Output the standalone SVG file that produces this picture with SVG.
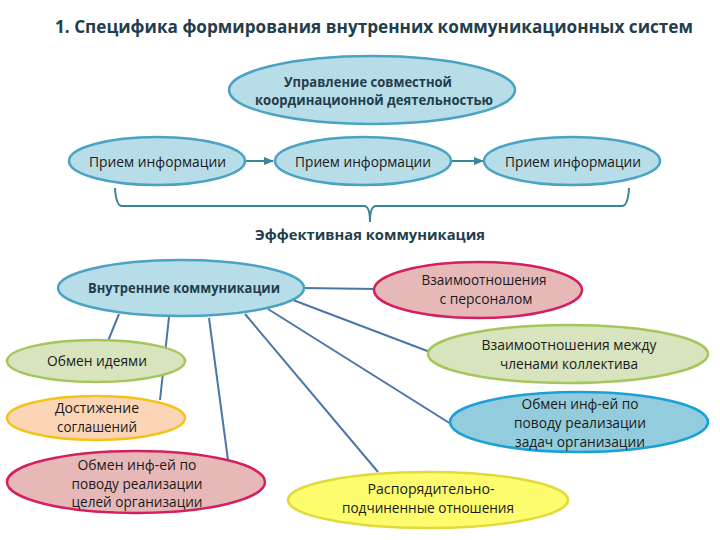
<svg xmlns="http://www.w3.org/2000/svg" width="720" height="540" viewBox="0 0 720 540">
<defs>
<marker id="arr" viewBox="0 0 10 10" refX="9" refY="5" markerWidth="5" markerHeight="5" orient="auto" markerUnits="strokeWidth">
<path d="M0,1 L10,5 L0,9 z" fill="#3a8598"/>
</marker>
<style>
.t{font-family:"Open Sans","Noto Sans","Liberation Sans",sans-serif;font-size:14px;fill:#1a1a1a;text-anchor:middle}
.b{font-family:"Open Sans","Noto Sans","Liberation Sans",sans-serif;font-size:14px;font-weight:bold;fill:#233d4c;text-anchor:middle}
.lb{fill:#b7dde8;stroke:#4aa3c2;stroke-width:2.5}
.pk{fill:#e6b9b8;stroke:#d3215f;stroke-width:2.5}
.gr{fill:#d7e4bd;stroke:#a5c65a;stroke-width:2.5}
.or{fill:#fbd5b5;stroke:#f5c218;stroke-width:2.5}
.bl{fill:#93cddd;stroke:#1aa0d6;stroke-width:2.5}
.ye{fill:#fcfc6c;stroke:#e2da3a;stroke-width:2.5}
.c{stroke:#4a76a8;stroke-width:2;fill:none}
.a{stroke:#3a8598;stroke-width:2;fill:none}
</style>
</defs>
<rect width="720" height="540" fill="#ffffff"/>
<text x="374" y="33" class="b" style="font-size:17px" textLength="638" lengthAdjust="spacingAndGlyphs">1. Специфика формирования внутренних коммуникационных систем</text>

<g id="connectors">
<line class="a" x1="246" y1="161" x2="273" y2="161" marker-end="url(#arr)"/>
<line class="a" x1="452" y1="161" x2="483" y2="161" marker-end="url(#arr)"/>
<path class="a" d="M115,188 Q116,206 122,206 H364 Q370,206 370,222 Q370,206 376,206 H622 Q628,206 629,188"/>
<line class="c" x1="303" y1="288" x2="376" y2="289"/>
<line class="c" x1="293" y1="300" x2="430" y2="352"/>
<line class="c" x1="268" y1="309" x2="451" y2="424"/>
<line class="c" x1="245" y1="314" x2="378" y2="472"/>
<line class="c" x1="209" y1="318" x2="228" y2="460"/>
<line class="c" x1="169" y1="317" x2="160" y2="400"/>
<line class="c" x1="119" y1="314" x2="108" y2="341"/>
</g>

<g id="upravlenie">
<ellipse class="lb" cx="372" cy="90" rx="143" ry="34"/>
<text class="b" x="368" y="87" textLength="168" lengthAdjust="spacingAndGlyphs">Управление совместной</text>
<text class="b" x="374" y="105" textLength="238" lengthAdjust="spacingAndGlyphs">координационной деятельностью</text>
</g>
<g id="priem1">
<ellipse class="lb" cx="157" cy="161" rx="88" ry="24"/>
<text class="t" x="157.5" y="167" textLength="137" lengthAdjust="spacingAndGlyphs">Прием информации</text>
</g>
<g id="priem2">
<ellipse class="lb" cx="363" cy="161" rx="88" ry="24"/>
<text class="t" x="363" y="167" textLength="136" lengthAdjust="spacingAndGlyphs">Прием информации</text>
</g>
<g id="priem3">
<ellipse class="lb" cx="572" cy="161" rx="88" ry="24"/>
<text class="t" x="573" y="167" textLength="136" lengthAdjust="spacingAndGlyphs">Прием информации</text>
</g>
<g id="effektivnaya">
<text class="b" x="370" y="240" textLength="230" lengthAdjust="spacingAndGlyphs">Эффективная коммуникация</text>
</g>
<g id="vnutrennie">
<ellipse class="lb" cx="181" cy="288" rx="123" ry="28"/>
<text class="b" x="184" y="293" textLength="192" lengthAdjust="spacingAndGlyphs">Внутренние коммуникации</text>
</g>
<g id="obmen-ideyami">
<ellipse class="gr" cx="96" cy="361" rx="89" ry="21"/>
<text class="t" x="97" y="366" textLength="100" lengthAdjust="spacingAndGlyphs">Обмен идеями</text>
</g>
<g id="dostizhenie">
<ellipse class="or" cx="96" cy="418" rx="89" ry="22"/>
<text class="t" x="97" y="413" textLength="84" lengthAdjust="spacingAndGlyphs">Достижение</text>
<text class="t" x="97" y="432" textLength="80" lengthAdjust="spacingAndGlyphs">соглашений</text>
</g>
<g id="obmen-celey">
<ellipse class="pk" cx="136" cy="482" rx="129" ry="31"/>
<text class="t" x="137" y="470" textLength="119" lengthAdjust="spacingAndGlyphs">Обмен инф-ей по</text>
<text class="t" x="137" y="489" textLength="131" lengthAdjust="spacingAndGlyphs">поводу реализации</text>
<text class="t" x="137" y="507" textLength="131" lengthAdjust="spacingAndGlyphs">целей организации</text>
</g>
<g id="rasporyaditelno">
<ellipse class="ye" cx="428" cy="500" rx="140" ry="28"/>
<text class="t" x="431" y="494" textLength="127" lengthAdjust="spacingAndGlyphs">Распорядительно-</text>
<text class="t" x="428" y="513" textLength="172" lengthAdjust="spacingAndGlyphs">подчиненные отношения</text>
</g>
<g id="personal">
<ellipse class="pk" cx="478" cy="290" rx="104" ry="28"/>
<text class="t" x="484" y="285" textLength="125" lengthAdjust="spacingAndGlyphs">Взаимоотношения</text>
<text class="t" x="486" y="304" textLength="93" lengthAdjust="spacingAndGlyphs">с персоналом</text>
</g>
<g id="kollektiv">
<ellipse class="gr" cx="568" cy="354" rx="140" ry="29"/>
<text class="t" x="569" y="350" textLength="175" lengthAdjust="spacingAndGlyphs">Взаимоотношения между</text>
<text class="t" x="569" y="369" textLength="138" lengthAdjust="spacingAndGlyphs">членами коллектива</text>
</g>
<g id="obmen-zadach">
<ellipse class="bl" cx="579" cy="422" rx="129" ry="30"/>
<text class="t" x="580" y="409" textLength="117" lengthAdjust="spacingAndGlyphs">Обмен инф-ей по</text>
<text class="t" x="580" y="428" textLength="132" lengthAdjust="spacingAndGlyphs">поводу реализации</text>
<text class="t" x="580" y="447" textLength="130" lengthAdjust="spacingAndGlyphs">задач организации</text>
</g>
</svg>
